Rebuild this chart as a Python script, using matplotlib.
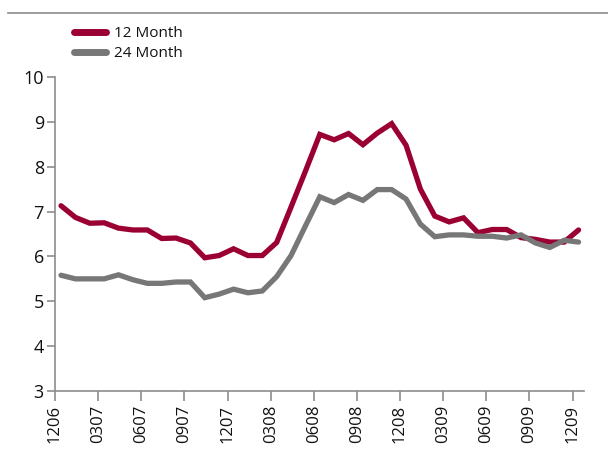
import matplotlib
matplotlib.use("Agg")
import matplotlib.pyplot as plt
import numpy as np

plt.rcParams['font.family'] = ['Open Sans', 'DejaVu Sans']

tick_labels = ["1206", "0307", "0607", "0907", "1207", "0308", "0608",
               "0908", "1208", "0309", "0609", "0909", "1209"]

rate_12m = [7.13, 6.87, 6.74, 6.75, 6.63, 6.59, 6.59, 6.40, 6.41, 6.30,
            5.97, 6.02, 6.17, 6.02, 6.02, 6.31, 7.10, 7.90, 8.72, 8.60,
            8.74, 8.49, 8.75, 8.96, 8.48, 7.50, 6.90, 6.77, 6.86, 6.53,
            6.60, 6.60, 6.42, 6.38, 6.32, 6.32, 6.59]

rate_24m = [5.58, 5.50, 5.50, 5.50, 5.59, 5.48, 5.40, 5.40, 5.43, 5.43,
            5.08, 5.16, 5.27, 5.19, 5.23, 5.55, 6.02, 6.68, 7.33, 7.20,
            7.38, 7.25, 7.49, 7.49, 7.28, 6.72, 6.44, 6.48, 6.48, 6.45,
            6.45, 6.41, 6.48, 6.30, 6.20, 6.36, 6.32]

series_names = ["12 Month", "24 Month"]
colors = ["#9b0032", "#777777"]

months = np.arange(len(rate_12m)) + 0.42
tick_pos = np.arange(0, 37, 3)

fig = plt.figure(figsize=(6.08, 4.62), dpi=100)
ax = fig.add_axes([55/608, 1 - 391/462, (584-55)/608, (391-77)/462])

ax.plot(months, rate_12m, color=colors[0], lw=3.8, label=series_names[0],
        solid_joinstyle='miter', solid_capstyle='round')
ax.plot(months, rate_24m, color=colors[1], lw=3.8, label=series_names[1],
        solid_joinstyle='miter', solid_capstyle='round')

ax.set_xlim(0, 36.8)
ax.set_ylim(3, 10)
ax.set_yticks(range(3, 11))
ax.set_xticks(tick_pos)
ax.set_xticklabels(tick_labels, rotation=90)

for s in ["top", "right"]:
    ax.spines[s].set_visible(False)
for s in ["left", "bottom"]:
    ax.spines[s].set_color("#8c8c8c")
    ax.spines[s].set_linewidth(1.2)

ax.tick_params(axis='y', length=6, width=1.2, color="#8c8c8c", labelsize=13,
               pad=2, labelcolor="#111111")
ax.tick_params(axis='x', length=7, width=1.2, color="#8c8c8c", labelsize=12,
               pad=3, labelcolor="#111111")

leg = fig.legend(loc='upper left', bbox_to_anchor=(74/608, 1 - 26/462),
                 frameon=False, fontsize=11, handlelength=2.1,
                 handletextpad=0.5, labelspacing=0.32, borderaxespad=0,
                 borderpad=0)
for line in leg.get_lines():
    line.set_linewidth(5)
    line.set_solid_capstyle('round')
for t in leg.get_texts():
    t.set_color("#111111")

fig.add_artist(plt.Line2D([8/608, 1], [1 - 13/462, 1 - 13/462],
                          color="#8c8c8c", lw=1.2, transform=fig.transFigure))

fig.savefig("out.png", dpi=100)
